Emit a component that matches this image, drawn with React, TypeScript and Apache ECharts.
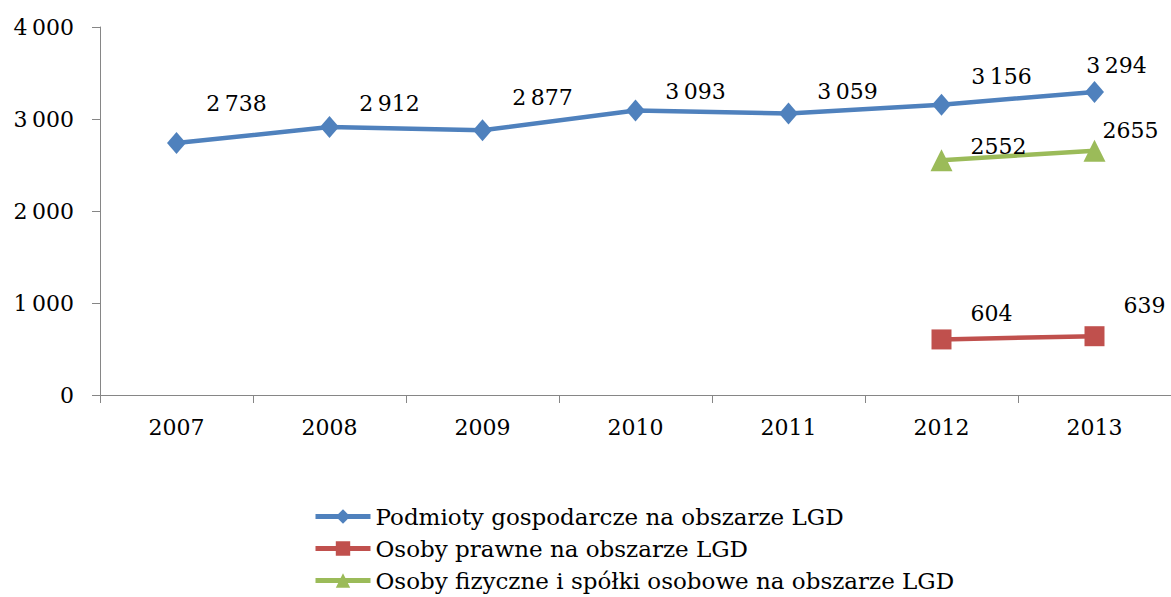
import React, { useEffect, useRef } from "react";
import * as echarts from "echarts";

const years = ["2007", "2008", "2009", "2010", "2011", "2012", "2013"];
const podmioty = [2738, 2912, 2877, 3093, 3059, 3156, 3294];
const prawne = [null, null, null, null, null, 604, 639];
const fizyczne = [null, null, null, null, null, 2552, 2655];
const yTicks = [0, 1000, 2000, 3000, 4000];

const seriesNames = [
  "Podmioty gospodarcze na obszarze LGD",
  "Osoby prawne na obszarze LGD",
  "Osoby fizyczne i spółki osobowe na obszarze LGD",
];

// label offsets (styling only)
const blueLabelOffsets = [[60, -40], [60, -24], [60, -33], [60, -19], [59, -22], [60, -28], [22, -26]];
const redLabelOffsets = [[0, 0], [0, 0], [0, 0], [0, 0], [0, 0], [50, -26], [50, -31]];
const greenLabelOffsets = [[0, 0], [0, 0], [0, 0], [0, 0], [0, 0], [57, -14], [36, -20]];

const FONT = "'DejaVu Serif', serif";
const fmt = (v: number, sep: boolean) => {
  if (!sep || v < 1000) return String(v);
  const s = String(v);
  return s.slice(0, s.length - 3) + "\u2009" + s.slice(s.length - 3);
};

const build = (vals: (number | null)[], offs: number[][]) =>
  vals.map((v, i) => (v == null ? null : { value: v, label: { offset: offs[i] } }));

export default function App() {
  const ref = useRef<HTMLDivElement>(null);
  useEffect(() => {
    const chart = echarts.init(ref.current!, null, { renderer: "svg" });
    const labelBase = {
      show: true,
      position: "inside",
      align: "center",
      verticalAlign: "middle",
      fontFamily: FONT,
      fontSize: 22,
      color: "#000",
    };
    chart.setOption({
      animation: false,
      backgroundColor: "#fff",
      grid: { left: 100, right: 0, top: 27, bottom: 202 },
      xAxis: {
        type: "category",
        data: years,
        boundaryGap: true,
        axisLine: { lineStyle: { color: "#868686", width: 1 } },
        axisTick: { show: true, length: 8, lineStyle: { color: "#868686" } },
        axisLabel: { fontFamily: FONT, fontSize: 22, color: "#000", margin: 21 },
        splitLine: { show: false },
      },
      yAxis: {
        type: "value",
        min: yTicks[0],
        max: yTicks[yTicks.length - 1],
        interval: 1000,
        axisLine: { show: true, lineStyle: { color: "#868686", width: 1 } },
        axisTick: { show: true, length: 8, lineStyle: { color: "#868686" } },
        axisLabel: {
          fontFamily: FONT,
          fontSize: 22,
          color: "#000",
          margin: 26,
          formatter: (v: number) => fmt(v, true),
        },
        splitLine: { show: false },
      },
      legend: {
        orient: "vertical",
        left: 313,
        top: 505,
        height: 100,
        padding: 0,
        itemWidth: 55,
        itemHeight: 18,
        itemGap: 9,
        lineStyle: { width: 5 },
        textStyle: { fontFamily: FONT, fontSize: 23, color: "#000" },
        data: seriesNames,
      },
      series: [
        {
          name: seriesNames[0],
          type: "line",
          data: build(podmioty, blueLabelOffsets),
          symbol: "diamond",
          symbolSize: [19, 22],
          lineStyle: { color: "#4F81BD", width: 4.5 },
          itemStyle: { color: "#4F81BD" },
          label: { ...labelBase, formatter: (p: any) => fmt(p.value, true) },
        },
        {
          name: seriesNames[1],
          type: "line",
          data: build(prawne, redLabelOffsets),
          symbol: "rect",
          symbolSize: 20,
          lineStyle: { color: "#C0504D", width: 4.5 },
          itemStyle: { color: "#C0504D" },
          label: { ...labelBase, formatter: (p: any) => fmt(p.value, false) },
        },
        {
          name: seriesNames[2],
          type: "line",
          data: build(fizyczne, greenLabelOffsets),
          symbol: "triangle",
          symbolSize: 22,
          lineStyle: { color: "#9BBB59", width: 4.5 },
          itemStyle: { color: "#9BBB59" },
          label: { ...labelBase, formatter: (p: any) => fmt(p.value, false) },
        },
      ],
    });
    return () => chart.dispose();
  }, []);
  return (
    <div
      ref={ref}
      style={{ position: "fixed", left: 0, top: 0, width: 1171, height: 597, background: "#fff" }}
    />
  );
}
